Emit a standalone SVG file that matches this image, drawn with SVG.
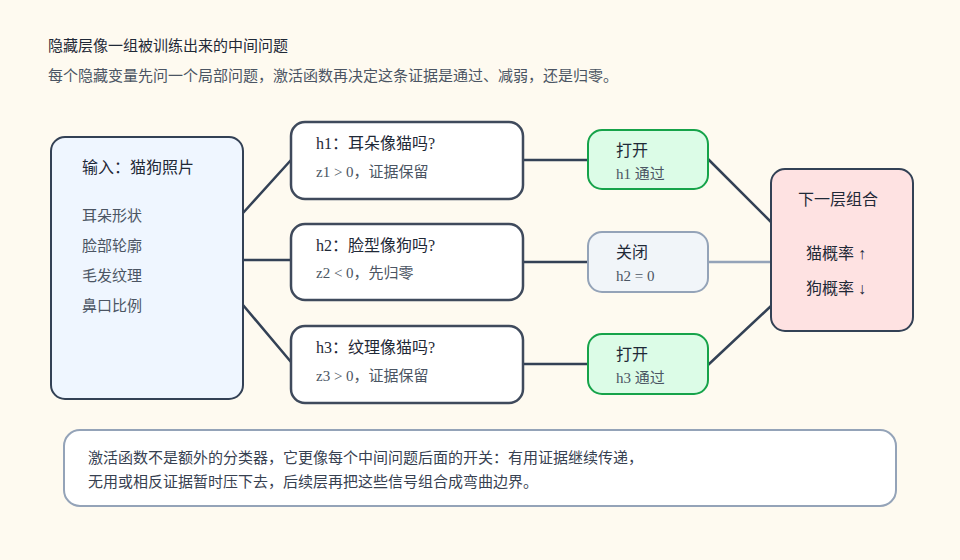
<svg xmlns="http://www.w3.org/2000/svg" width="960" height="560" viewBox="0 0 960 560">
<style>
text{font-family:"Liberation Serif","Noto Sans CJK SC",serif;fill:#1f2937}
.t{font-size:16px}
.s{font-size:15px;fill:#4b5563}
.q{fill:#fff;stroke:#3f4a5c;stroke-width:2.5}
.on{fill:#dcfce7;stroke:#16a34a;stroke-width:2}
.off{fill:#f1f5f9;stroke:#94a3b8;stroke-width:2}
.c{stroke:#334155;stroke-width:2.5;fill:none}
</style>
<rect width="960" height="560" fill="#fefaf0"/>
<text x="48" y="51" class="t" style="font-size:15px">隐藏层像一组被训练出来的中间问题</text>
<text x="48" y="81" class="s">每个隐藏变量先问一个局部问题，激活函数再决定这条证据是通过、减弱，还是归零。</text>
<g id="connectors">
<path class="c" d="M243 213L291 160M243 260H291M243 305L291 362M523 160H588M523 262H588M523 364H588M708 159L771 222M708 365L771 306"/>
<path d="M708 262H771" stroke="#94a3b8" stroke-width="2.5"/>
</g>
<g id="input">
<rect x="51" y="137" width="192" height="262" rx="14" fill="#eff6ff" stroke="#334155" stroke-width="2"/>
<text x="82" y="173" class="t">输入：猫狗照片</text>
<text x="82" y="221" class="s">耳朵形状</text>
<text x="82" y="251" class="s">脸部轮廓</text>
<text x="82" y="281" class="s">毛发纹理</text>
<text x="82" y="311" class="s">鼻口比例</text>
</g>
<g id="h1"><rect class="q" x="291" y="122" width="232" height="77" rx="14"/>
<text x="316" y="149" class="t">h1：耳朵像猫吗?</text><text x="316" y="177" class="s">z1 &gt; 0，证据保留</text></g>
<g id="h2"><rect class="q" x="291" y="224" width="232" height="76" rx="14"/>
<text x="316" y="251" class="t">h2：脸型像狗吗?</text><text x="316" y="278" class="s">z2 &lt; 0，先归零</text></g>
<g id="h3"><rect class="q" x="291" y="326" width="232" height="77" rx="14"/>
<text x="316" y="353" class="t">h3：纹理像猫吗?</text><text x="316" y="381" class="s">z3 &gt; 0，证据保留</text></g>
<g id="s1"><rect class="on" x="588" y="130" width="120" height="59" rx="14"/>
<text x="616" y="156" class="t">打开</text><text x="616" y="179" class="s">h1 通过</text></g>
<g id="s2"><rect class="off" x="588" y="232" width="120" height="60" rx="14"/>
<text x="616" y="258" class="t">关闭</text><text x="616" y="281" class="s">h2 = 0</text></g>
<g id="s3"><rect class="on" x="588" y="334" width="120" height="60" rx="14"/>
<text x="616" y="360" class="t">打开</text><text x="616" y="383" class="s">h3 通过</text></g>
<g id="out"><rect x="771" y="169" width="142" height="162" rx="14" fill="#fee2e2" stroke="#334155" stroke-width="2"/>
<text x="798" y="205" class="t">下一层组合</text>
<text x="806" y="259" class="t">猫概率 ↑</text>
<text x="806" y="294" class="t">狗概率 ↓</text></g>
<g id="note"><rect x="64" y="430" width="832" height="76" rx="16" fill="#fff" stroke="#94a3b8" stroke-width="2"/>
<text x="88" y="463" class="s" style="fill:#374151">激活函数不是额外的分类器，它更像每个中间问题后面的开关：有用证据继续传递，</text>
<text x="88" y="487" class="s" style="fill:#374151">无用或相反证据暂时压下去，后续层再把这些信号组合成弯曲边界。</text></g>
</svg>
